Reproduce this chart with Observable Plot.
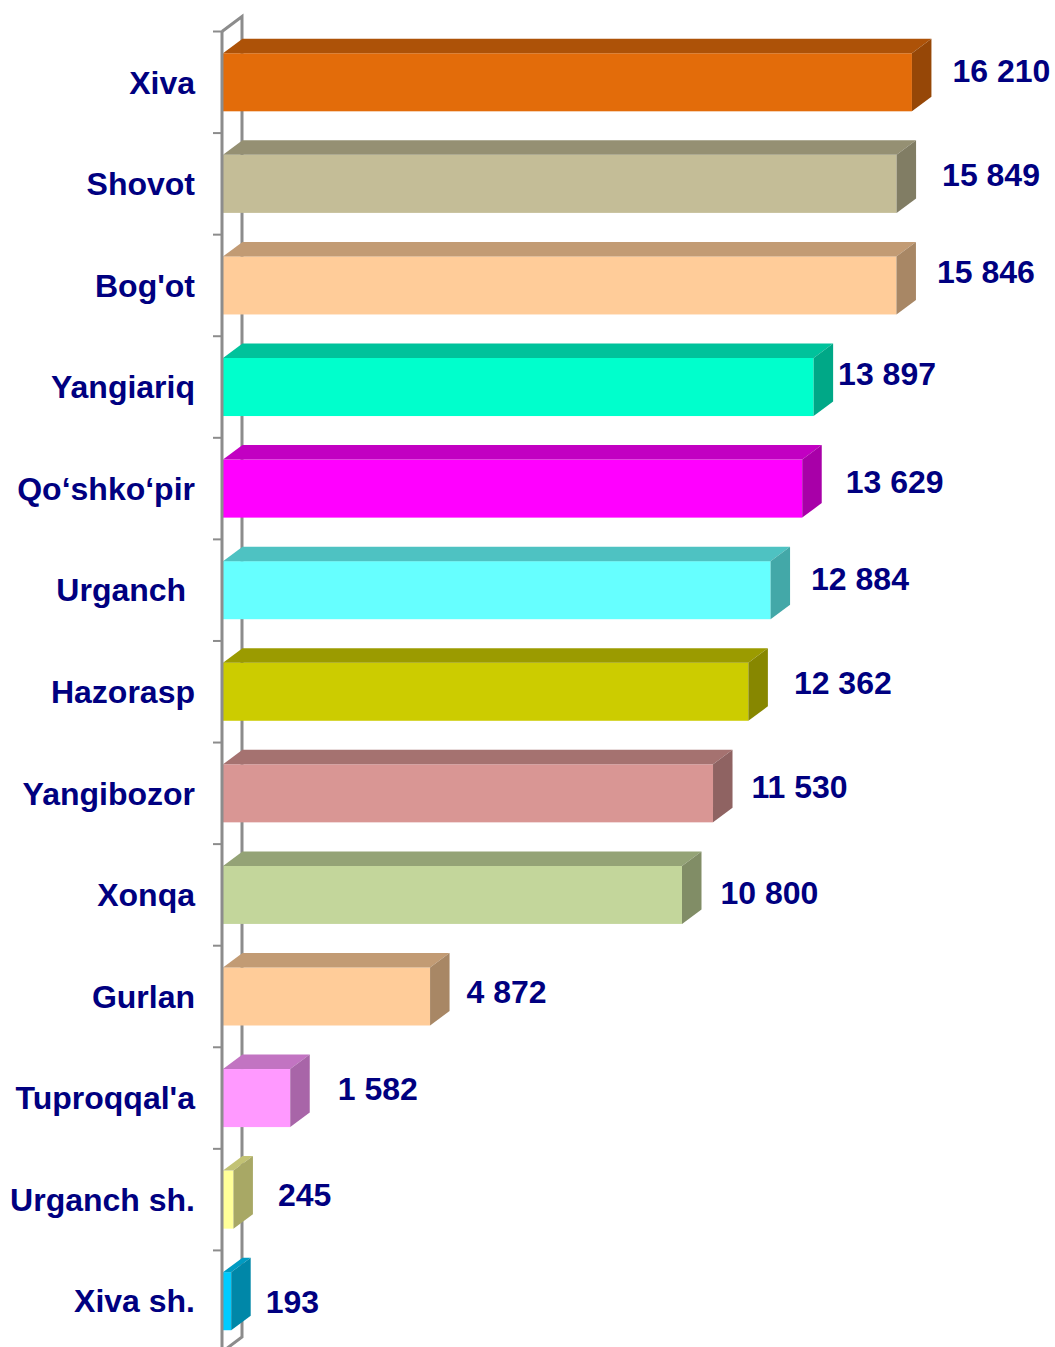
<!DOCTYPE html>
<html>
<head>
<meta charset="utf-8">
<style>
html, body { margin: 0; padding: 0; background: #fff; }
svg text { white-space: pre; }
</style>
<script src="https://cdn.jsdelivr.net/npm/d3@7"></script>
<script src="https://cdn.jsdelivr.net/npm/@observablehq/plot@0.6"></script>
</head>
<body>
<div id="chart"></div>
<script>
const names = ["Xiva", "Shovot", "Bog'ot", "Yangiariq", "Qo‘shko‘pir", "Urganch ", "Hazorasp", "Yangibozor", "Xonqa", "Gurlan", "Tuproqqal'a", "Urganch sh.", "Xiva sh."];
const values = [16210, 15849, 15846, 13897, 13629, 12884, 12362, 11530, 10800, 4872, 1582, 245, 193];
const faceColors = ["#E36C0A", "#C4BD97", "#FFCC99", "#00FFCC", "#FF00FF", "#66FFFF", "#CCCC00", "#D99694", "#C3D69B", "#FFCC99", "#FF99FF", "#FFFF99", "#00CCFF"];
// Hand-placed value labels of the original: offset from each bar's end and band centre.
const labelDx = [40, 45, 40, 24, 43, 40, 45, 38, 38, 36, 47, 44, 34];
const labelDy = [-11, -9, -13, -13, -6, -11, -9, -6, -2, -4, -9, -4, 1];

const NAVY = "#000080";
const GRAY = "#8C8C8C";
const DEPTH_X = 19.5;
const DEPTH_Y = 14.5;

const rows = names.map((name, i) => ({name, value: values[i], face: faceColors[i], dx: labelDx[i], dy: labelDy[i]}));
const shade = (color, k) => {
  const c = d3.rgb(color);
  return d3.rgb(c.r * k, c.g * k, c.b * k).formatHex();
};
const fmt = (v) => String(v).replace(/\B(?=(\d{3})+$)/g, " ");
const NS = "http://www.w3.org/2000/svg";
const poly = (parent, points, fill) => {
  const p = document.createElementNS(NS, "polygon");
  p.setAttribute("points", points.map((q) => q.join(",")).join(" "));
  p.setAttribute("fill", fill);
  parent.appendChild(p);
};
const path = (parent, d, width) => {
  const p = document.createElementNS(NS, "path");
  p.setAttribute("d", d);
  p.setAttribute("fill", "none");
  p.setAttribute("stroke", GRAY);
  p.setAttribute("stroke-width", width);
  parent.appendChild(p);
};
const bandStart = (scales, i) => scales.y(names[i]) - (scales.y(names[1]) - scales.y(names[0]) - scales.y.bandwidth()) / 2;

function backWall(index, scales) {
  const g = document.createElementNS(NS, "g");
  const x0 = scales.x(0) - 1;
  const top = bandStart(scales, 0);
  const step = scales.y(names[1]) - scales.y(names[0]);
  const bottom = top + step * names.length;
  path(g, `M${x0},${top}L${x0 + 20},${top - 15}V${bottom - 15}L${x0},${bottom}`, 3);
  return g;
}
function frontWall(index, scales) {
  const g = document.createElementNS(NS, "g");
  const x0 = scales.x(0) - 1;
  const top = bandStart(scales, 0);
  const step = scales.y(names[1]) - scales.y(names[0]);
  const bottom = top + step * names.length;
  path(g, `M${x0},${top}V${bottom}`, 3);
  for (let i = 0; i <= names.length; ++i) {
    path(g, `M${x0 - 9},${top + step * i}H${x0}`, 2);
  }
  return g;
}
function bar3d(index, scales, vals, dims, ctx, next) {
  const g = next(index, scales, vals, dims, ctx);
  g.querySelectorAll("rect").forEach((r, k) => {
    const x = +r.getAttribute("x"), y = +r.getAttribute("y");
    const w = +r.getAttribute("width"), h = +r.getAttribute("height");
    const face = rows[index[k]].face;
    poly(g, [[x, y], [x + DEPTH_X, y - DEPTH_Y], [x + w + DEPTH_X, y - DEPTH_Y], [x + w, y]], shade(face, 0.76));
    poly(g, [[x + w, y], [x + w + DEPTH_X, y - DEPTH_Y], [x + w + DEPTH_X, y + h - DEPTH_Y], [x + w, y + h]], shade(face, 0.66));
  });
  return g;
}

const chart = Plot.plot({
  width: 1055,
  height: 1347,
  marginLeft: 223,
  marginRight: 67,
  marginTop: 0,
  marginBottom: 0,
  style: {fontFamily: "'Liberation Sans', Arial, sans-serif", background: "#fff", overflow: "hidden"},
  x: {domain: [0, 18000], range: [223, 988], axis: null},
  y: {domain: names, range: [31.5, 1352], round: false, paddingInner: 0.4286, paddingOuter: 0.2143, axis: null},
  color: {type: "identity"},
  marks: [
    backWall,
    Plot.barX(rows, {x: "value", y: "name", fill: "face", render: bar3d}),
    frontWall,
    Plot.axisY({anchor: "left", tickSize: 0, tickPadding: 0, dx: -28.5, dy: 0.5, label: null, fontSize: 32, fontWeight: "bold", fill: NAVY}),
    ...rows.map((d) => Plot.text([d], {
      x: "value", y: "name", text: (r) => fmt(r.value),
      dx: d.dx, dy: d.dy, textAnchor: "start", lineAnchor: "middle",
      fontSize: 32, fontWeight: "bold", fill: NAVY
    }))
  ]
});
document.getElementById("chart").appendChild(chart);
</script>
</body>
</html>
